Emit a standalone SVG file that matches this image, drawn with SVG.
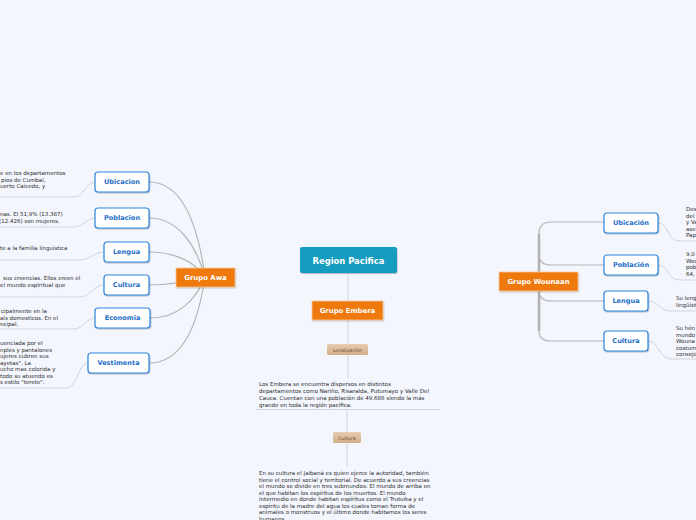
<svg xmlns="http://www.w3.org/2000/svg" width="696" height="520" viewBox="0 0 696 520">
<defs>
<filter id="sh" x="-20%" y="-20%" width="140%" height="160%"><feDropShadow dx="0.6" dy="1" stdDeviation="0.6" flood-color="#000" flood-opacity="0.25"/></filter>
<linearGradient id="tan" x1="0" y1="0" x2="0" y2="1"><stop offset="0" stop-color="#e8cdb0"/><stop offset="1" stop-color="#d2ad89"/></linearGradient>
</defs>
<style>
.bg{fill:#f4f6fd}
.main{fill:#159cbf}
.org{fill:#ee7910;stroke:#f7c89c;stroke-width:0.8}
.sub{fill:#fff;stroke:#2f86de;stroke-width:1.2}
.tan{fill:url(#tan)}
.tw{font-family:"DejaVu Sans",Verdana,sans-serif;font-weight:bold;fill:#fff;text-anchor:middle}
.tb{font-family:"DejaVu Sans",Verdana,sans-serif;font-weight:bold;fill:#1f6fc9;font-size:6.6px;text-anchor:middle}
.tt{font-family:"DejaVu Sans",Verdana,sans-serif;font-size:5.5px;fill:#2b2b2b}
.tl{font-family:"DejaVu Sans",Verdana,sans-serif;font-size:4.8px;fill:#6b4f33;text-anchor:middle}
.c{fill:none;stroke:#b5b5b5;stroke-width:1.2}
.u{fill:none;stroke:#d2d4da;stroke-width:1}
.trunk{fill:none;stroke:#b0b0b0;stroke-width:2.5}
</style>
<rect class="bg" x="0" y="0" width="696" height="520"/>

<g id="connectors">
<path class="u" d="M348,273 L348,301"/>
<path class="u" d="M348,320 L348,344"/>
<path class="u" d="M348,355 L348,378"/>
<path class="u" d="M256,409.5 L440,409.5"/>
<path class="u" d="M347,410 L347,432"/>
<path class="u" d="M347,443 L347,466"/>
<path class="c" d="M149,182 C182,182 198,225 205,277"/>
<path class="c" d="M149,218 C178,218 196,245 205,277"/>
<path class="c" d="M149,252 C175,252 195,262 205,277"/>
<path class="c" d="M149,285 C170,285 190,281 205,277"/>
<path class="c" d="M150,318 C178,318 196,300 205,277"/>
<path class="c" d="M149,363 C182,363 198,325 205,277"/>
<path class="u" d="M95,182 C86,182 84,197 74,197 L0,197"/>
<path class="u" d="M95,218 C86,218 84,227 74,227 L0,227"/>
<path class="u" d="M104,252 C94,252 90,260 80,260 L0,260"/>
<path class="u" d="M104,285 C94,285 90,297 80,297 L0,297"/>
<path class="u" d="M95,318 C86,318 84,329 74,329 L0,329"/>
<path class="u" d="M88,363 C78,363 78,388 66,388 L0,388"/>
<path class="trunk" d="M539,272 L539,234"/>
<path class="trunk" d="M539,291 L539,331"/>
<path class="c" d="M539,234 Q539,222 551,222 L604,222"/>
<path class="c" d="M539,254 Q539,265 551,265 L604,265"/>
<path class="c" d="M539,290 Q539,301 551,301 L604,301"/>
<path class="c" d="M539,331 Q539,341 551,341 L604,341"/>
<path class="u" d="M658,223 C669,223 667,241 680,241 L696,241"/>
<path class="u" d="M658,265 C669,265 667,280 680,280 L696,280"/>
<path class="u" d="M648,301 C659,301 659,311 671,311 L696,311"/>
<path class="u" d="M648,341 C659,341 659,359 671,359 L696,359"/>
</g>

<g id="region-pacifica">
<rect class="main" x="300" y="247" width="97" height="26" rx="2" filter="url(#sh)"/>
<text class="tw" x="348.5" y="263.8" font-size="8.4px">Region Pacifica</text>
</g>

<g id="grupo-embera">
<rect class="org" x="312" y="301" width="71" height="19" filter="url(#sh)"/>
<text class="tw" x="347.5" y="313" font-size="6.9px">Grupo Embera</text>
</g>

<g id="localizacion">
<rect class="tan" x="327" y="344" width="41" height="11" rx="1.5"/>
<text class="tl" x="347.5" y="351.5">Localización</text>
</g>

<g id="embera-localizacion-text">
<text class="tt" x="259" y="386">Los Embera se encuentra dispersos en distintos</text>
<text class="tt" x="259" y="393">departamentos como Nariño, Risaralda, Putumayo y Valle Del</text>
<text class="tt" x="259" y="400">Cauca. Cuentan con una población de 49.686 siendo la más</text>
<text class="tt" x="259" y="407">grande en toda la región pacifica.</text>
</g>

<g id="cultura-embera">
<rect class="tan" x="333" y="432" width="28" height="11" rx="1.5"/>
<text class="tl" x="347" y="439.5">Cultura</text>
</g>

<g id="embera-cultura-text">
<text class="tt" x="259" y="475">En su cultura el Jaibaná es quien ejerce la autoridad, también</text>
<text class="tt" x="259" y="481.5">tiene el control social y territorial. De acuerdo a sus creencias</text>
<text class="tt" x="259" y="488">el mundo se divide en tres submundos: El mundo de arriba en</text>
<text class="tt" x="259" y="494.5">el que habitan los espíritus de los muertos. El mundo</text>
<text class="tt" x="259" y="501">intermedio en donde habitan espíritus como el Trutuika y el</text>
<text class="tt" x="259" y="507.5">espíritu de la madre del agua los cuales toman forma de</text>
<text class="tt" x="259" y="514">animales o monstruos y el último donde habitamos los seres</text>
<text class="tt" x="259" y="520.5">humanos.</text>
</g>

<g id="grupo-awa">
<rect class="org" x="176" y="268" width="59" height="19" filter="url(#sh)"/>
<text class="tw" x="205.5" y="280" font-size="6.9px">Grupo Awa</text>
</g>

<g id="awa-ubicacion">
<rect class="sub" x="95" y="172" width="54" height="20" rx="3" filter="url(#sh)"/>
<text class="tb" x="122" y="184.3">Ubicacion</text>
<text class="tt" x="0" y="175">e en los departamentos</text>
<text class="tt" x="1" y="181.5">pios de Cumbal,</text>
<text class="tt" x="0" y="188">uerto Caicedo, y</text>
</g>

<g id="awa-poblacion">
<rect class="sub" x="95" y="208" width="54" height="20" rx="3" filter="url(#sh)"/>
<text class="tb" x="122" y="220.3">Poblacion</text>
<text class="tt" x="0" y="216">nas. El 51,9% (13.387)</text>
<text class="tt" x="-1" y="222.5">(12.426) son mujeres.</text>
</g>

<g id="awa-lengua">
<rect class="sub" x="104" y="242" width="45" height="20" rx="3" filter="url(#sh)"/>
<text class="tb" x="126.5" y="254.3">Lengua</text>
<text class="tt" x="0" y="250">te a la familia linguistica</text>
</g>

<g id="awa-cultura">
<rect class="sub" x="104" y="275" width="45" height="20" rx="3" filter="url(#sh)"/>
<text class="tb" x="126.5" y="287.3">Cultura</text>
<text class="tt" x="3" y="280">sus creencias. Ellos creen el</text>
<text class="tt" x="0" y="287">el mundo espiritual que</text>
</g>

<g id="awa-economia">
<rect class="sub" x="95" y="308" width="55" height="20" rx="3" filter="url(#sh)"/>
<text class="tb" x="122.5" y="320.3">Economia</text>
<text class="tt" x="1" y="313">cipalmente en la</text>
<text class="tt" x="0" y="319.5">als domesticos. En el</text>
<text class="tt" x="0" y="326">ncipal.</text>
</g>

<g id="awa-vestimenta">
<rect class="sub" x="88" y="353" width="61" height="20" rx="3" filter="url(#sh)"/>
<text class="tb" x="118.5" y="365.3">Vestimenta</text>
<text class="tt" x="0" y="345">uenciada por el</text>
<text class="tt" x="0" y="351.5">nples y pantalones</text>
<text class="tt" x="0" y="358">ujeres cubren sus</text>
<text class="tt" x="0" y="364.5">ayetas". La</text>
<text class="tt" x="0" y="371">ucho mas colorida y</text>
<text class="tt" x="0" y="377.5">todo su atuendo es</text>
<text class="tt" x="0" y="384">s estilo "terete".</text>
</g>

<g id="grupo-wounaan">
<rect class="org" x="499" y="272" width="79" height="19" filter="url(#sh)"/>
<text class="tw" x="538.5" y="284" font-size="6.9px">Grupo Wounaan</text>
</g>

<g id="wounaan-ubicacion">
<rect class="sub" x="604" y="213" width="54" height="20" rx="3" filter="url(#sh)"/>
<text class="tb" x="631" y="225.3">Ubicación</text>
<text class="tt" x="686" y="211">Des</text>
<text class="tt" x="686" y="217.5">del</text>
<text class="tt" x="686" y="224">y Va</text>
<text class="tt" x="686" y="230.5">ase</text>
<text class="tt" x="686" y="237">Pap</text>
</g>

<g id="wounaan-poblacion">
<rect class="sub" x="604" y="255" width="54" height="20" rx="3" filter="url(#sh)"/>
<text class="tb" x="631" y="267.3">Población</text>
<text class="tt" x="686" y="256">9.0</text>
<text class="tt" x="686" y="262.5">Wou</text>
<text class="tt" x="686" y="269">pob</text>
<text class="tt" x="686" y="275.5">64,</text>
</g>

<g id="wounaan-lengua">
<rect class="sub" x="604" y="291" width="44" height="20" rx="3" filter="url(#sh)"/>
<text class="tb" x="626" y="303.3">Lengua</text>
<text class="tt" x="676" y="300">Su leng</text>
<text class="tt" x="676" y="306.5">lingüíst</text>
</g>

<g id="wounaan-cultura">
<rect class="sub" x="604" y="331" width="44" height="20" rx="3" filter="url(#sh)"/>
<text class="tb" x="626" y="343.3">Cultura</text>
<text class="tt" x="676" y="330">Su hén</text>
<text class="tt" x="676" y="336.5">mundo</text>
<text class="tt" x="676" y="343">Wouna</text>
<text class="tt" x="676" y="349.5">costum</text>
<text class="tt" x="676" y="356">consejo</text>
</g>
</svg>
